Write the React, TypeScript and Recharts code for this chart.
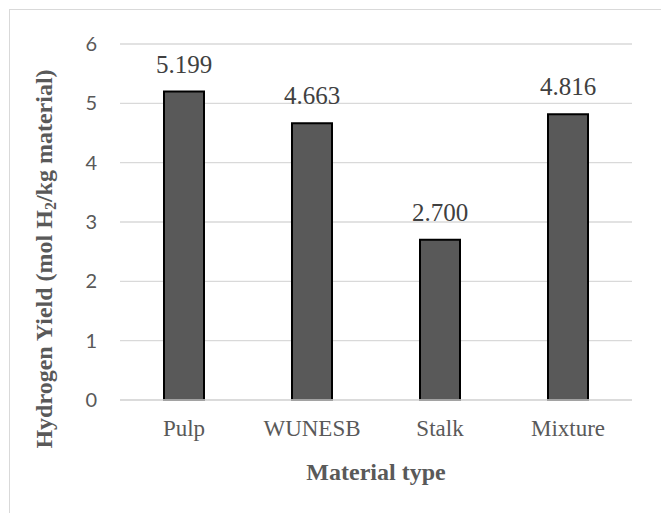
import React from 'react';
import { BarChart, Bar, XAxis, YAxis, CartesianGrid, LabelList, Label } from 'recharts';

const materials = ['Pulp', 'WUNESB', 'Stalk', 'Mixture'];
const hydrogenYield = [5.199, 4.663, 2.7, 4.816];
const yTicks = [0, 1, 2, 3, 4, 5, 6];

const data = materials.map((name, i) => ({ name, yield: hydrogenYield[i] }));

const GRAY = '#595959';
const SERIF = "Liberation Serif, DejaVu Serif, serif";
const SANS = "Lato, Liberation Sans, sans-serif";

const CategoryTick = (props: any) => {
    const { x, y, payload } = props;
    return (
        <text x={x} y={y + 16} textAnchor="middle" fill={GRAY} fontFamily={SERIF} fontWeight="normal" fontSize={23}>
            {payload.value}
        </text>
    );
};

const ValueTick = (props: any) => {
    const { x, y, payload } = props;
    return (
        <text x={x} y={y + 7} textAnchor="end" fill={GRAY} fontFamily={SANS} fontSize={20}>
            {payload.value}
        </text>
    );
};

const BarValue = (props: any) => {
    const { x, y, width, value } = props;
    return (
        <text x={x + width / 2} y={y - 19} textAnchor="middle" fill="#404040" fontFamily={SERIF} fontWeight="normal" fontSize={25}>
            {Number(value).toFixed(3)}
        </text>
    );
};

const YTitle = (props: any) => {
    const { viewBox } = props;
    const cx = viewBox.x + 44;
    const cy = viewBox.y + viewBox.height / 2 + 37;
    return (
        <text
            x={cx}
            y={cy}
            transform={`rotate(-90, ${cx}, ${cy})`}
            textAnchor="middle"
            dominantBaseline="central"
            fill={GRAY}
            fontFamily={SERIF}
            fontWeight="bold"
            fontSize={24}
        >
            Hydrogen Yield (mol H<tspan dy={6} fontSize={16}>2</tspan>
            <tspan dy={-6}>/kg material)</tspan>
        </text>
    );
};

const XTitle = (props: any) => {
    const { viewBox } = props;
    return (
        <text
            x={viewBox.x + viewBox.width / 2}
            y={viewBox.y + 80}
            textAnchor="middle"
            fill={GRAY}
            fontFamily={SERIF}
            fontWeight="bold"
            fontSize={24}
        >
            Material type
        </text>
    );
};

const App: React.FC = () => {
    return (
        <div style={{ position: 'absolute', left: 0, top: 0, width: 661, height: 513, overflow: 'hidden', background: '#fff' }}>
            <div
                style={{
                    position: 'absolute',
                    left: 9,
                    top: 9,
                    width: 700,
                    height: 600,
                    border: '1px solid #d9d9d9',
                }}
            />
            <BarChart
                width={661}
                height={513}
                data={data}
                margin={{ top: 44, right: 29, left: 0, bottom: 0 }}
                style={{ position: 'absolute', left: 0, top: 0 }}
            >
                <CartesianGrid vertical={false} stroke="#d9d9d9" strokeWidth={1.3} />
                <XAxis
                    dataKey="name"
                    height={113}
                    axisLine={{ stroke: '#d9d9d9', strokeWidth: 1.5 }}
                    tickLine={false}
                    tickSize={0}
                    tickMargin={20}
                    tick={<CategoryTick />}
                >
                    <Label content={<XTitle />} />
                </XAxis>
                <YAxis
                    width={120}
                    domain={[0, 6]}
                    ticks={yTicks}
                    axisLine={false}
                    tickLine={false}
                    tickSize={0}
                    tickMargin={23}
                    tick={<ValueTick />}
                >
                    <Label content={<YTitle />} />
                </YAxis>
                <Bar dataKey="yield" fill={GRAY} stroke="#000" strokeWidth={2} barSize={40} isAnimationActive={false}>
                    <LabelList dataKey="yield" content={<BarValue />} />
                </Bar>
            </BarChart>
        </div>
    );
};

export default App;
